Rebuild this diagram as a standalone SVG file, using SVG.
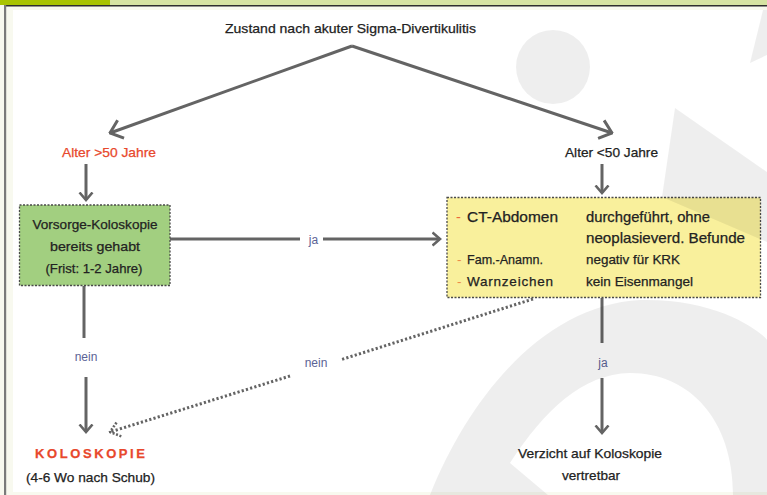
<svg xmlns="http://www.w3.org/2000/svg" width="767" height="495" viewBox="0 0 767 495">
<defs>
<style>
.t{font-family:"Liberation Sans",Arial,sans-serif;font-size:13px;fill:#222222;stroke:#222222;stroke-width:0.25}
.big{font-size:14.5px}
.mid{font-size:13.5px}
.red{fill:#e8482c;stroke:#e8482c}
.lbl{font-family:"Liberation Sans",Arial,sans-serif;font-size:12px;fill:#5b6396}
.ln{stroke:#646464;stroke-width:3;fill:none}
.dot{stroke:#646464;stroke-width:3;fill:none;stroke-dasharray:2.2 2.2}
.wm{fill:#000;fill-opacity:0.065}
</style>
<marker id="ah" viewBox="0 0 10 16" refX="8.5" refY="8" markerWidth="10" markerHeight="16" markerUnits="userSpaceOnUse" orient="auto">
<path d="M1,1.5 L8.5,8 L1,14.5" fill="none" stroke="#646464" stroke-width="2.6"/>
</marker>
<marker id="ahb" viewBox="0 0 14 22" refX="12.5" refY="11" markerWidth="14" markerHeight="22" markerUnits="userSpaceOnUse" orient="auto">
<path d="M1,1.5 L12.5,11 L1,20.5" fill="none" stroke="#646464" stroke-width="3"/>
</marker>
<marker id="ahd" viewBox="0 0 12 18" refX="10.5" refY="9" markerWidth="12" markerHeight="18" markerUnits="userSpaceOnUse" orient="auto">
<path d="M1,1.5 L10.5,9 L1,16.5" fill="none" stroke="#646464" stroke-width="2.6" stroke-dasharray="2 1.6"/>
</marker>
</defs>
<g id="background">
<rect x="0" y="0" width="767" height="495" fill="#f8f9ef"/>
<rect x="13" y="10" width="754" height="482" fill="#ffffff"/>
<rect x="0" y="0" width="110" height="5" fill="#a9c400"/>
<rect x="110" y="0" width="657" height="5" fill="#d6e3a2"/>
<rect x="4" y="5" width="763" height="1.5" fill="#2e2e2e"/>
<rect x="4" y="5" width="2.2" height="490" fill="#7a7a7a"/>
</g>
<g id="connectors">
<line class="ln" x1="352" y1="46" x2="110" y2="133" marker-end="url(#ahb)"/>
<line class="ln" x1="352" y1="46" x2="612" y2="133" marker-end="url(#ahb)"/>
<line class="ln" x1="86" y1="164" x2="86" y2="200" marker-end="url(#ah)"/>
<line class="ln" x1="602" y1="164" x2="602" y2="193" marker-end="url(#ah)"/>
<line class="ln" x1="170" y1="239" x2="300" y2="239"/>
<line class="ln" x1="323" y1="239" x2="440" y2="239" marker-end="url(#ah)"/>
<line class="ln" x1="84" y1="286" x2="84" y2="338"/>
<line class="ln" x1="86" y1="377" x2="86" y2="432" marker-end="url(#ah)"/>
<line class="ln" x1="602" y1="298" x2="602" y2="343"/>
<line class="ln" x1="602" y1="378" x2="602" y2="433" marker-end="url(#ah)"/>
<line class="dot" x1="533" y1="299" x2="340" y2="360"/>
<line class="dot" x1="290" y1="376" x2="110" y2="432" marker-end="url(#ahd)"/>
<text class="lbl" x="313.5" y="244" text-anchor="middle">ja</text>
<text class="lbl" x="86" y="361" text-anchor="middle">nein</text>
<text class="lbl" x="316" y="367" text-anchor="middle">nein</text>
<text class="lbl" x="603" y="367" text-anchor="middle">ja</text>
</g>
<g id="title">
<text class="t" x="350.5" y="33" text-anchor="middle" textLength="251" lengthAdjust="spacingAndGlyphs">Zustand nach akuter Sigma-Divertikulitis</text>
</g>
<g id="alter-ueber-50">
<text class="t red" x="109" y="157" text-anchor="middle" textLength="94" lengthAdjust="spacingAndGlyphs">Alter &gt;50 Jahre</text>
</g>
<g id="alter-unter-50">
<text class="t" x="611.5" y="157" text-anchor="middle" textLength="93" lengthAdjust="spacingAndGlyphs">Alter &lt;50 Jahre</text>
</g>
<g id="vorsorge">
<rect x="19.5" y="205" width="150.5" height="80.5" fill="#a2cf80" stroke="#4a4a4a" stroke-width="1.3" stroke-dasharray="2 1.5"/>
<text class="t" x="95" y="229" text-anchor="middle" textLength="125" lengthAdjust="spacingAndGlyphs">Vorsorge-Koloskopie</text>
<text class="t" x="95" y="251" text-anchor="middle" textLength="90" lengthAdjust="spacingAndGlyphs">bereits gehabt</text>
<text class="t" x="94" y="273" text-anchor="middle" textLength="97" lengthAdjust="spacingAndGlyphs">(Frist: 1-2 Jahre)</text>
</g>
<g id="kriterien">
<rect x="447" y="197.5" width="313.5" height="100" fill="#f9f09c" stroke="#4a4a4a" stroke-width="1.3" stroke-dasharray="2 1.5"/>
<text class="t big" x="456" y="222" style="fill:#ec6a3a;stroke:none">-</text>
<text class="t big" x="467" y="222" textLength="91" lengthAdjust="spacingAndGlyphs">CT-Abdomen</text>
<text class="t big" x="586" y="222" textLength="124" lengthAdjust="spacingAndGlyphs">durchgeführt, ohne</text>
<text class="t big" x="586" y="243" textLength="159" lengthAdjust="spacingAndGlyphs">neoplasieverd. Befunde</text>
<text class="t mid" x="457" y="264" style="fill:#ec8a4a;stroke:none">-</text>
<text class="t mid" x="467" y="264" textLength="76" lengthAdjust="spacingAndGlyphs">Fam.-Anamn.</text>
<text class="t mid" x="586" y="264" textLength="94" lengthAdjust="spacingAndGlyphs">negativ für KRK</text>
<text class="t mid" x="457" y="286" style="fill:#ec8a4a;stroke:none">-</text>
<text class="t mid" x="467" y="286" textLength="86" lengthAdjust="spacing">Warnzeichen</text>
<text class="t mid" x="586" y="286" textLength="107" lengthAdjust="spacingAndGlyphs">kein Eisenmangel</text>
</g>
<g id="koloskopie">
<text class="t red" x="90" y="458" text-anchor="middle" font-weight="bold" font-size="12" textLength="110" lengthAdjust="spacing">KOLOSKOPIE</text>
<text class="t" x="90.5" y="482" text-anchor="middle" textLength="129" lengthAdjust="spacingAndGlyphs">(4-6 Wo nach Schub)</text>
</g>
<g id="verzicht">
<text class="t" x="590" y="458" text-anchor="middle" textLength="144" lengthAdjust="spacingAndGlyphs">Verzicht auf Koloskopie</text>
<text class="t" x="591" y="480" text-anchor="middle" textLength="58" lengthAdjust="spacingAndGlyphs">vertretbar</text>
</g>
<g id="watermark">
<circle class="wm" cx="553" cy="67" r="37"/>
<path class="wm" d="M675,108 L767,172 L767,242 L662,197 Z"/>
<path class="wm" d="M763,10 L767,10 L767,55 L750,63 Z"/>
<path class="wm" fill-rule="evenodd" d="M430,495 C470,395 545,305 640,300 C715,298 760,330 767,340 L767,495 Z M510,463 C545,410 582,374 630,373 C690,373 733,420 733,495 L548,495 Z"/>
</g>
</svg>
